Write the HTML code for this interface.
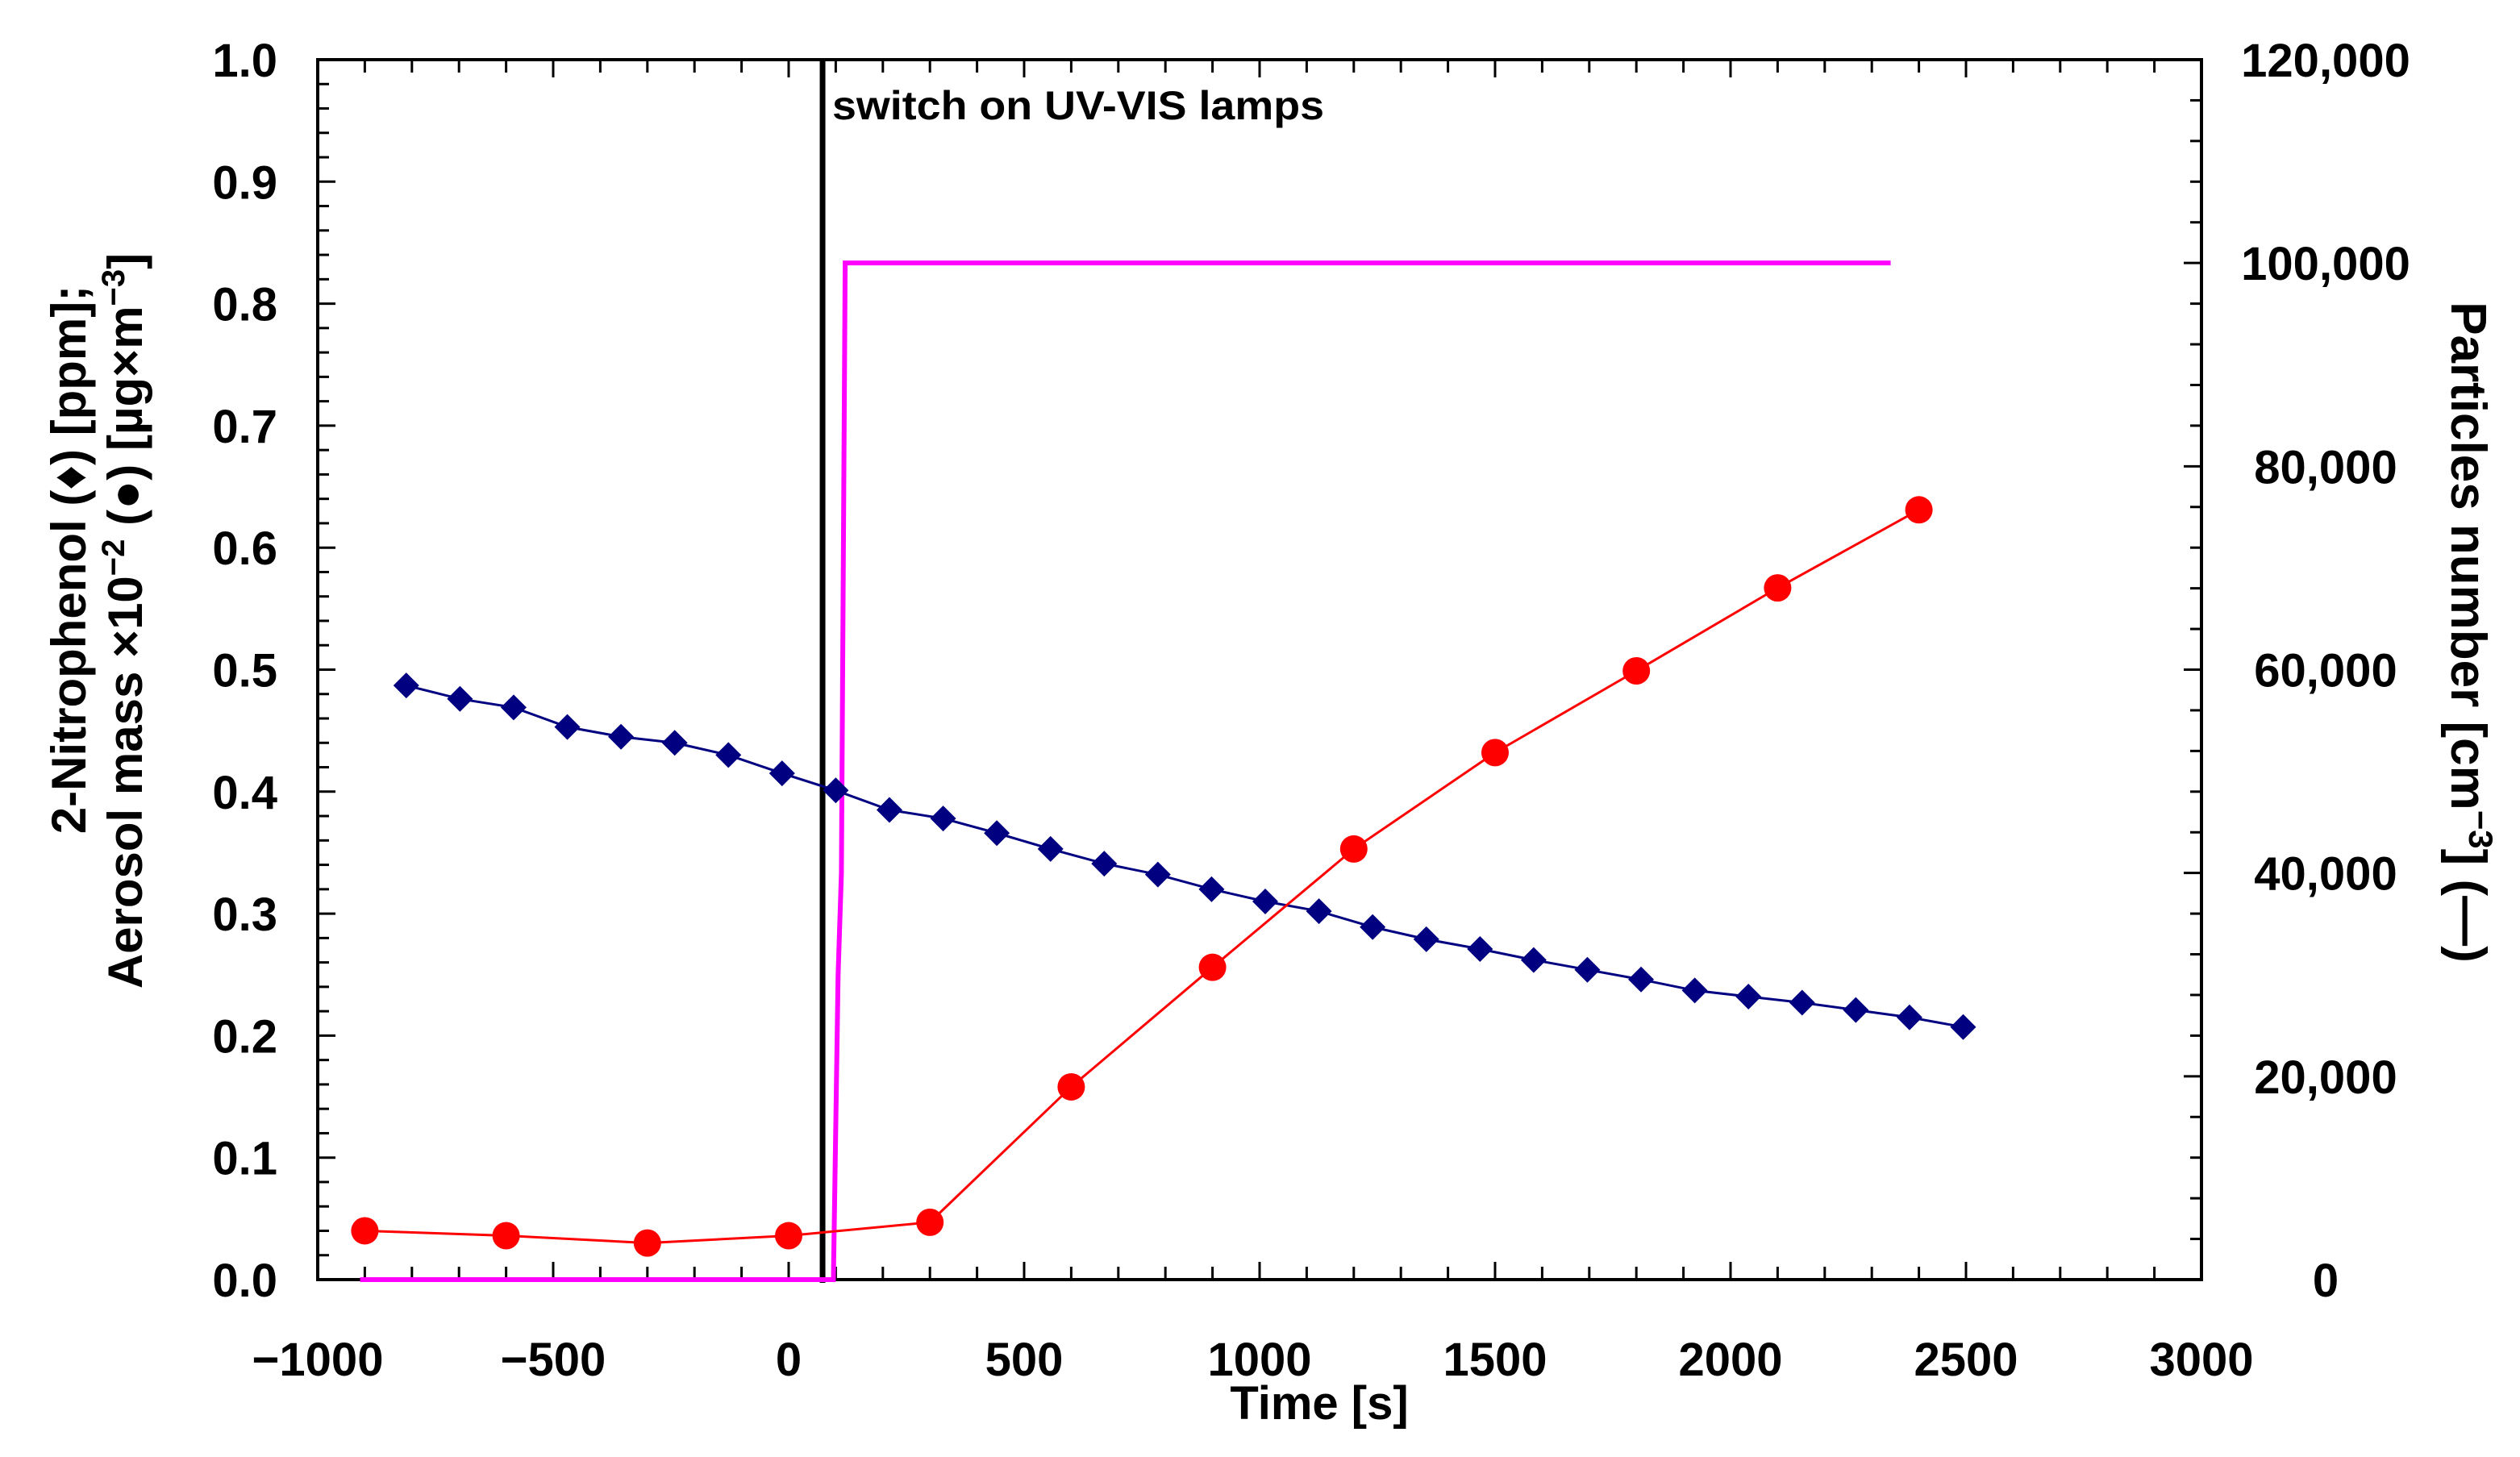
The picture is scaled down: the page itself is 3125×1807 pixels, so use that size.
<!DOCTYPE html>
<html><head><meta charset="utf-8"><style>
html,body{margin:0;padding:0;background:#fff}
svg{display:block}
text{font-family:"Liberation Sans",Arial,sans-serif;font-weight:bold;fill:#000}
</style></head><body>
<svg id="chart" width="3125" height="1807" viewBox="0 0 3125 1807" xmlns="http://www.w3.org/2000/svg">
<g id="grid"></g>
<g id="series"></g>
<text x="1032" y="148" font-size="50" textLength="610" lengthAdjust="spacingAndGlyphs">switch on UV-VIS lamps</text>
<text x="1636" y="1760" font-size="58" text-anchor="middle">Time [s]</text>
<text transform="translate(106,694) rotate(-90)" font-size="60" text-anchor="middle">2-Nitrophenol (♦) [ppm];</text>
<text transform="translate(176,770) rotate(-90)" font-size="60" text-anchor="middle">Aerosol mass ×10<tspan dy="-22" font-size="40">−2</tspan><tspan dy="22"> (●) [µg×m</tspan><tspan dy="-22" font-size="40">−3</tspan><tspan dy="22">]</tspan></text>
<text transform="translate(3040,784) rotate(90)" font-size="62" text-anchor="middle">Particles number [cm<tspan dy="-22" font-size="42">−3</tspan><tspan dy="22">] (—)</tspan></text>
</svg>
<script>
const xTicks=[-1000,-500,0,500,1000,1500,2000,2500,3000];
const yTicks=[0,0.1,0.2,0.3,0.4,0.5,0.6,0.7,0.8,0.9,1.0];
const y2Ticks=[0,20000,40000,60000,80000,100000,120000];
const y2Labels=["0","20,000","40,000","60,000","80,000","100,000","120,000"];
const nitroT=[-812,-698,-584,-470,-356,-242,-128,-14,100,214,328,442,556,670,784,898,1012,1126,1240,1354,1468,1582,1696,1810,1924,2038,2152,2266,2380,2494];
const nitroV=[0.487,0.476,0.469,0.453,0.445,0.440,0.430,0.415,0.401,0.385,0.378,0.366,0.353,0.341,0.332,0.320,0.310,0.302,0.289,0.279,0.271,0.262,0.254,0.246,0.237,0.232,0.227,0.221,0.215,0.207];
const aeroT=[-900,-600,-300,0,300,600,900,1200,1500,1800,2100,2400];
const aeroV=[0.040,0.036,0.030,0.036,0.047,0.158,0.256,0.353,0.432,0.499,0.567,0.631];
const partT=[-910,80,95,105,112,120,2340];
const partV=[0,0,0,30000,40000,100000,100000];
const switchT=72;

const L=394,R=2730,T=74,B=1587;
const X=t=>L+(t+1000)/4000*(R-L);
const Y=v=>B-v*(B-T);
const Y2=v=>B-v/120000*(B-T);
const NS="http://www.w3.org/2000/svg";
function mk(tag,parent,attrs){const e=document.createElementNS(NS,tag);for(const k in attrs)e.setAttribute(k,attrs[k]);parent.appendChild(e);return e;}
const g=document.getElementById('grid'),s=document.getElementById('series');

for(let t=-900;t<3000;t+=100){const maj=t%500===0;const len=maj?22:16;
 let a=mk('line',g,{x1:X(t),x2:X(t),y1:B,y2:B-len,stroke:'#000','stroke-width':3});
 
 let b=mk('line',g,{x1:X(t),x2:X(t),y1:T,y2:T+len,stroke:'#000','stroke-width':3});
 }
for(let i=1;i<50;i++){const v=i*0.02;const maj=i%5===0;
 let a=mk('line',g,{x1:L,x2:L+(maj?22:14),y1:Y(v),y2:Y(v),stroke:'#000','stroke-width':3});
 }
for(let i=1;i<30;i++){const v=i*4000;const maj=i%5===0;
 let a=mk('line',g,{x1:R,x2:R-(maj?22:14),y1:Y2(v),y2:Y2(v),stroke:'#000','stroke-width':3});
 }
let frame=mk('rect',g,{x:L,y:T,width:R-L,height:B-T,fill:'none',stroke:'#000','stroke-width':4});


xTicks.forEach(t=>{const e=mk('text',g,{x:X(t),y:1706,'font-size':58,'text-anchor':'middle'});e.textContent=(t<0?'\u2212'+(-t):t);
 });
yTicks.forEach(v=>{const e=mk('text',g,{x:344,y:Y(v)+21,'font-size':58,'text-anchor':'end'});e.textContent=v.toFixed(1);
 });
y2Ticks.forEach((v,i)=>{const e=mk('text',g,{x:2884,y:Y2(v)+21,'font-size':58,'text-anchor':'middle'});e.textContent=y2Labels[i];
 });

let sw=mk('line',s,{x1:X(switchT),x2:X(switchT),y1:T,y2:B+4,stroke:'#000','stroke-width':7});

let pp=mk('polyline',s,{points:partT.map((t,i)=>X(t)+','+Y2(partV[i])).join(' '),fill:'none',stroke:'#ff00ff','stroke-width':6});

let nl=mk('polyline',s,{points:nitroT.map((t,i)=>X(t)+','+Y(nitroV[i])).join(' '),fill:'none',stroke:'#000080','stroke-width':3});

nitroT.forEach((t,i)=>{const x=X(t),y=Y(nitroV[i]),r=16;
 const d=mk('polygon',s,{points:`${x},${y-r} ${x+r},${y} ${x},${y+r} ${x-r},${y}`,fill:'#000080'});
 });
let al=mk('polyline',s,{points:aeroT.map((t,i)=>X(t)+','+Y(aeroV[i])).join(' '),fill:'none',stroke:'#ff0000','stroke-width':3});

aeroT.forEach((t,i)=>{const c=mk('circle',s,{cx:X(t),cy:Y(aeroV[i]),r:17,fill:'#ff0000'});
 });
</script>
</body></html>
